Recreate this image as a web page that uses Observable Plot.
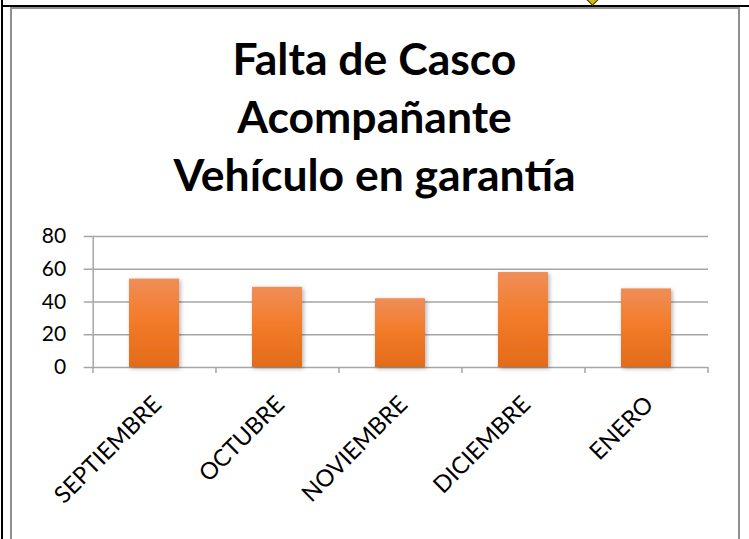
<!DOCTYPE html>
<html>
<head>
<meta charset="utf-8">
<script src="https://cdn.jsdelivr.net/npm/d3@7"></script>
<script src="https://cdn.jsdelivr.net/npm/@observablehq/plot@0.6"></script>
<style>
  html, body { margin: 0; padding: 0; background: #fff; }
  #wrap { position: relative; width: 749px; height: 539px; overflow: hidden; background: #fff; font-family: Lato, "Open Sans", sans-serif; }
  .bl { position: absolute; background: #000; }
  #frame { position: absolute; left: 10px; top: 7px; width: 726px; height: 560px; border: 2.5px solid #8f8f8f; box-sizing: content-box; }
  #title { position: absolute; left: 0; width: 749px; top: 29px; text-align: center; font-weight: bold; font-size: 44.5px; line-height: 58px; color: #000; }
  #chart { position: absolute; left: 0; top: 220px; }
  #gem { position: absolute; left: 588px; top: -5px; width: 7px; height: 7px; background: #d8b820; border: 1.5px solid #3a3000; transform: rotate(45deg); }
</style>
</head>
<body>
<div id="wrap">
  <div class="bl" style="left:1px;top:0;width:2px;height:539px"></div>
  <div class="bl" style="left:3px;top:5px;width:746px;height:2px"></div>
  <div id="gem"></div>
  <div id="frame"></div>
  <div id="title">Falta de Casco<br>Acompañante<br>Vehículo en garantía</div>
  <div id="chart"></div>
</div>
<script>
const months = ["SEPTIEMBRE", "OCTUBRE", "NOVIEMBRE", "DICIEMBRE", "ENERO"];
const values = [54, 49, 42, 58, 48];
const yTicks = [0, 20, 40, 60, 80];

const data = months.map((m, i) => ({month: m, value: values[i]}));

const W = 749, H = 319;
const ml = 92.7, mr = 41, mt = 16, mb = 172;
const step = (W - ml - mr) / months.length;
const grid = "#a6a6a6";

const plot = Plot.plot({
  width: W,
  height: H,
  marginLeft: ml,
  marginRight: mr,
  marginTop: mt,
  marginBottom: mb,
  style: {fontFamily: "Lato, 'Open Sans', sans-serif", background: "transparent", overflow: "visible"},
  x: {domain: months, paddingInner: 0.593, paddingOuter: 0.2965, label: null},
  y: {domain: [0, 80], label: null},
  marks: [
    Plot.gridY(yTicks, {stroke: grid, strokeOpacity: 1, strokeWidth: 1.5}),
    Plot.frame({anchor: "left", stroke: grid, strokeWidth: 1.5}),
    Plot.ruleX(months, {x: d => d, y1: 0, y2: 0, insetTop: 6, dx: -step / 2, stroke: grid, strokeWidth: 1.5}),
    Plot.ruleX(months.slice(-1), {x: d => d, y1: 0, y2: 0, insetTop: 6, dx: step / 2, stroke: grid, strokeWidth: 1.5}),
    Plot.barY(data, {x: "month", y: "value", fill: "url(#barGrad)"}),
    Plot.axisY(yTicks, {tickSize: 9, tickPadding: 18, fontSize: 21, stroke: grid, strokeWidth: 1.5, fill: "#000", label: null}),
    Plot.axisX({tickSize: 0, tickRotate: -45, tickPadding: 33, dx: 3, fontSize: 23.5, fill: "#000", label: null})
  ]
});

const svg = d3.select(plot);
const defs = svg.insert("defs", ":first-child");
const g = defs.append("linearGradient").attr("id", "barGrad").attr("x1", 0).attr("y1", 0).attr("x2", 0).attr("y2", 1);
g.append("stop").attr("offset", "0%").attr("stop-color", "#ef8e58");
g.append("stop").attr("offset", "45%").attr("stop-color", "#f37c2b");
g.append("stop").attr("offset", "100%").attr("stop-color", "#e36b18");
const f = defs.append("filter").attr("id", "shadow").attr("x", "-20%").attr("y", "-20%").attr("width", "140%").attr("height", "140%");
f.append("feDropShadow").attr("dx", 1.5).attr("dy", 1.5).attr("stdDeviation", 2).attr("flood-color", "#000").attr("flood-opacity", 0.3);
svg.selectAll('g[aria-label="bar"]').attr("filter", "url(#shadow)");

document.getElementById("chart").appendChild(plot);
</script>
</body>
</html>
